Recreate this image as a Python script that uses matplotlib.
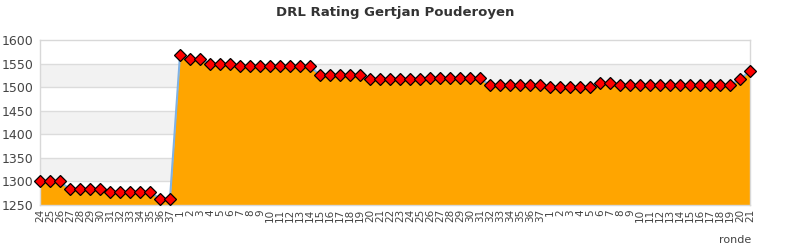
import matplotlib
matplotlib.use("Agg")
import matplotlib.pyplot as plt
from matplotlib.patches import Rectangle

# round labels (three seasons in a row)
rounds = ([str(r) for r in range(24, 38)]
          + [str(r) for r in range(1, 38)]
          + [str(r) for r in range(1, 22)])

rating_season1 = [1300, 1300, 1300, 1283, 1283, 1283, 1283,
                  1278, 1278, 1278, 1278, 1278, 1263, 1263]
rating_season2 = [1568, 1559, 1559, 1550, 1550, 1550,
                  1544, 1544, 1544, 1544, 1544, 1544, 1544, 1544,
                  1526, 1526, 1526, 1526, 1526,
                  1517, 1517, 1517, 1517, 1517, 1517,
                  1519, 1519, 1519, 1519, 1519, 1519,
                  1504, 1504, 1504, 1504, 1504, 1504]
rating_season3 = [1500, 1500, 1500, 1500, 1500, 1508, 1508,
                  1504, 1504, 1504, 1504, 1504, 1504, 1504, 1504,
                  1504, 1504, 1504, 1504, 1517, 1534]
ratings = rating_season1 + rating_season2 + rating_season3

y_ticks = [1250, 1300, 1350, 1400, 1450, 1500, 1550, 1600]

x = list(range(len(ratings)))

fig = plt.figure(figsize=(7.9, 2.5), dpi=100)
ax = fig.add_axes([40 / 790, 45 / 250, 710 / 790, 165 / 250])

ax.set_xlim(0, len(ratings) - 1)
ax.set_ylim(y_ticks[0], y_ticks[-1])

# alternating background bands
for i in range(len(y_ticks) - 1):
    if i % 2 == 1:
        ax.axhspan(y_ticks[i], y_ticks[i + 1], color="#f2f2f2", zorder=0, lw=0)
for t in y_ticks[1:-1]:
    ax.axhline(t, color="#dcdcdc", lw=1, zorder=1)

ax.fill_between(x, ratings, y_ticks[0], color="#ffa500", lw=0, zorder=2)
ax.plot(x, ratings, color="#7fb2e5", lw=1.5, zorder=3)
ax.plot(x, ratings, ls="none", marker="D", markersize=6.5,
        markerfacecolor="#ff0000", markeredgecolor="#000000",
        markeredgewidth=0.9, zorder=4, clip_on=False)

ax.set_yticks(y_ticks)
ax.set_xticks(x)
ax.set_xticklabels(rounds, rotation=90, fontsize=7.5, color="#444444")
ax.tick_params(axis="y", labelsize=9, colors="#444444", length=0, pad=5)
ax.tick_params(axis="x", length=0, pad=3)

for side in ax.spines.values():
    side.set_color("#d8d8d8")
    side.set_linewidth(1)

fig.text(0.5, 0.95, "DRL Rating Gertjan Pouderoyen", ha="center", va="center",
         fontsize=9.5, fontweight="bold", color="#333333")
fig.text(735 / 790, 10 / 250, "ronde", ha="center", va="center",
         fontsize=8, color="#444444")

fig.savefig("out.png", dpi=100)
